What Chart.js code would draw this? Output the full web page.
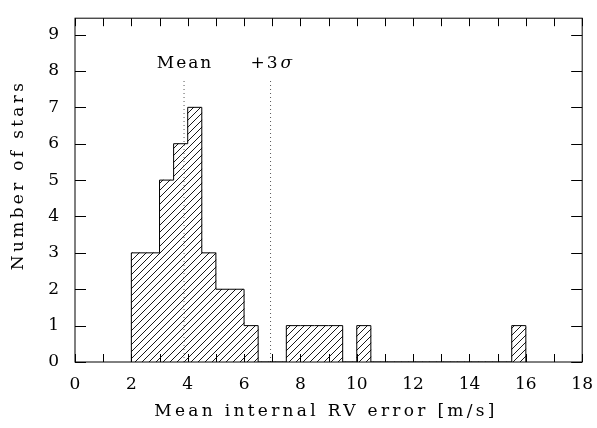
<!DOCTYPE html>
<html>
<head>
<meta charset="utf-8">
<script src="https://cdn.jsdelivr.net/npm/chart.js@4"></script>
<style>
  html, body { margin: 0; padding: 0; background: #fff; }
  #wrap { width: 597px; height: 428px; }
</style>
</head>
<body>
<div id="wrap"><canvas id="histo" width="597" height="428"></canvas></div>
<script>
// bins of 0.5 m/s, left edges and number of stars in each
const binStart = [2, 2.5, 3, 3.5, 4, 4.5, 5, 5.5, 6, 6.5, 7, 7.5, 8, 8.5, 9, 9.5, 10, 10.5, 11, 11.5, 12, 12.5, 13, 13.5, 14, 14.5, 15, 15.5];
const counts   = [3, 3, 5, 6, 7, 3, 2, 2, 1, 0, 0, 1, 1, 1, 1, 0, 1, 0, 0, 0, 0, 0, 0, 0, 0, 0, 0, 1];
const binWidth = 0.5;

const meanErr = 3.87;
const plus3Sigma = 6.94;
const markerTop = 7.75;
const markerLabelY = 8.2;

const xTicks = [0, 2, 4, 6, 8, 10, 12, 14, 16, 18];
const yTicks = [0, 1, 2, 3, 4, 5, 6, 7, 8, 9];
const xTitle = "Mean internal RV error [m/s]";
const yTitle = "Number of stars";

const FONT = "'DejaVu Serif', serif";

// hatch pattern "/"
function hatch() {
  const s = 7;
  const c = document.createElement("canvas");
  c.width = s; c.height = s;
  const g = c.getContext("2d");
  g.strokeStyle = "#000";
  g.lineWidth = 0.9;
  for (let k = -1; k <= 1; k++) {
    g.beginPath();
    g.moveTo(k * s, s);
    g.lineTo(k * s + s, 0);
    g.stroke();
  }
  return g.createPattern(c, "repeat");
}

const barData = binStart.map((x, i) => ({ x: x + binWidth / 2, y: counts[i] }));
const outline = [{ x: binStart[0], y: 0 }]
  .concat(binStart.map((x, i) => ({ x: x, y: counts[i] })))
  .concat([{ x: binStart[binStart.length - 1] + binWidth, y: 0 }]);

// frame, inward ticks, axis titles and marker labels
const framePlugin = {
  id: "frame",
  afterDatasetsDraw(chart) {
    const { ctx, chartArea: a, scales } = chart;
    ctx.save();
    ctx.strokeStyle = "#000";
    ctx.lineWidth = 1;
    ctx.strokeRect(a.left, a.top, a.right - a.left, a.bottom - a.top);
    ctx.beginPath();
    for (let v = 0; v <= 18; v++) {
      const px = Math.round(scales.x.getPixelForValue(v)) + 0.5;
      ctx.moveTo(px, a.bottom); ctx.lineTo(px, a.bottom - 8);
      ctx.moveTo(px, a.top); ctx.lineTo(px, a.top + 8);
    }
    for (let v = 0; v <= 9; v++) {
      const py = Math.round(scales.y.getPixelForValue(v)) + 0.5;
      ctx.moveTo(a.left, py); ctx.lineTo(a.left + 11, py);
      ctx.moveTo(a.right, py); ctx.lineTo(a.right - 11, py);
    }
    ctx.stroke();

    ctx.fillStyle = "#000";
    ctx.textBaseline = "middle";
    ctx.font = "17px " + FONT;

    // axis titles, spaced out like the original
    ctx.letterSpacing = "3.3px";
    ctx.textAlign = "center";
    ctx.fillText(xTitle, 326, 412);
    ctx.save();
    ctx.translate(19, 177);
    ctx.rotate(-Math.PI / 2);
    ctx.fillText(yTitle, 2, 0);
    ctx.restore();

    ctx.letterSpacing = "2px";
    const ly = scales.y.getPixelForValue(markerLabelY);
    ctx.fillText("Mean", scales.x.getPixelForValue(meanErr) + 1, ly);
    const sx = scales.x.getPixelForValue(plus3Sigma);
    ctx.textAlign = "left";
    ctx.fillText("+3", sx - 20, ly);
    ctx.font = "italic 17px " + FONT;
    ctx.fillText("σ", sx + 10, ly);
    ctx.restore();
  }
};

new Chart(document.getElementById("histo"), {
  type: "bar",
  data: {
    datasets: [
      { type: "bar", data: barData, backgroundColor: hatch(), borderWidth: 0,
        barPercentage: 1, categoryPercentage: 1, order: 3 },
      { type: "line", data: outline, stepped: "before", borderColor: "#000", borderWidth: 1,
        pointRadius: 0, fill: false, order: 1 },
      { type: "line", data: [{ x: meanErr, y: 0 }, { x: meanErr, y: markerTop }], borderColor: "#555",
        borderWidth: 1, borderDash: [1, 3], pointRadius: 0, order: 2 },
      { type: "line", data: [{ x: plus3Sigma, y: 0 }, { x: plus3Sigma, y: markerTop }], borderColor: "#555",
        borderWidth: 1, borderDash: [1, 3], pointRadius: 0, order: 2 }
    ]
  },
  options: {
    responsive: false,
    animation: false,
    events: [],
    layout: { padding: { top: 9, right: 13, left: 0, bottom: 0 } },
    plugins: { legend: { display: false }, tooltip: { enabled: false } },
    scales: {
      x: {
        type: "linear", min: 0, max: 18, offset: false,
        afterBuildTicks: s => { s.ticks = xTicks.map(v => ({ value: v })); },
        afterFit: s => { s.height = 66; },
        grid: { display: false },
        border: { display: false },
        ticks: { color: "#000", font: { family: FONT, size: 17 }, padding: 4, maxRotation: 0 }
      },
      y: {
        min: 0, max: 9.45,
        afterBuildTicks: s => { s.ticks = yTicks.map(v => ({ value: v })); },
        afterFit: s => { s.width = 75; },
        grid: { display: false },
        border: { display: false },
        ticks: { color: "#000", font: { family: FONT, size: 17 }, padding: 8 }
      }
    }
  },
  plugins: [framePlugin]
});
</script>
</body>
</html>
